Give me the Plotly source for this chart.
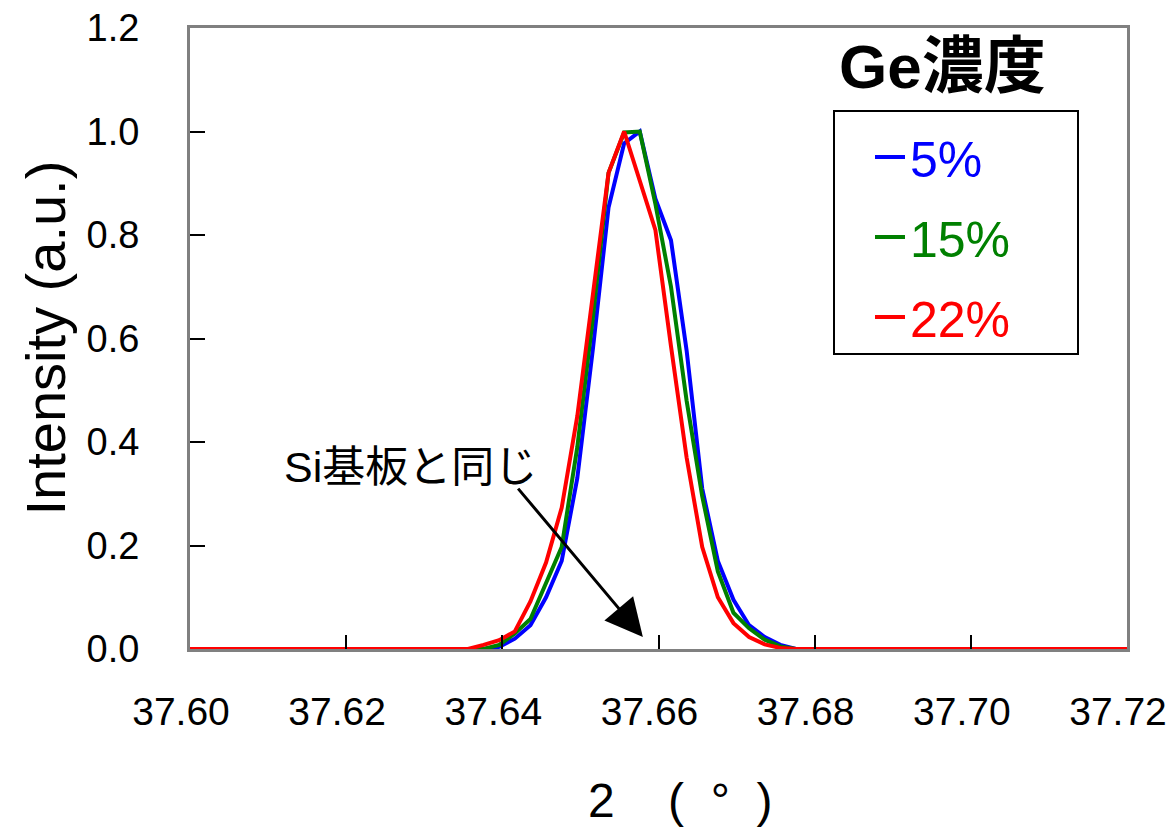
import plotly.graph_objects as go

# 2θ values (deg)
two_theta = [37.6000, 37.6356, 37.6376, 37.6396, 37.6416, 37.6436, 37.6456, 37.6476,
             37.6496, 37.6516, 37.6536, 37.6556, 37.6576, 37.6596, 37.6616, 37.6636,
             37.6656, 37.6676, 37.6696, 37.6716, 37.6736, 37.6756, 37.6776, 37.7200]

ge5 = [0.0, 0.0, 0.0, 0.004, 0.02, 0.046, 0.10, 0.17, 0.33, 0.58, 0.853, 0.977,
       1.0, 0.87, 0.79, 0.577, 0.31, 0.17, 0.095, 0.046, 0.023, 0.008, 0.0, 0.0]
ge15 = [0.0, 0.0, 0.0, 0.008, 0.03, 0.058, 0.128, 0.197, 0.39, 0.64, 0.92, 0.998,
        1.0, 0.86, 0.70, 0.48, 0.295, 0.15, 0.07, 0.04, 0.018, 0.005, 0.0, 0.0]
ge22 = [0.0, 0.0, 0.008, 0.017, 0.034, 0.092, 0.167, 0.273, 0.45, 0.68, 0.92, 1.0,
        0.905, 0.81, 0.585, 0.37, 0.197, 0.10, 0.05, 0.023, 0.009, 0.002, 0.0, 0.0]

series_names = ["5%", "15%", "22%"]
series_colors = ["#0000FF", "#008000", "#FF0000"]
x_ticks = [37.60, 37.62, 37.64, 37.66, 37.68, 37.70, 37.72]
x_tick_labels = ["37.60", "37.62", "37.64", "37.66", "37.68", "37.70", "37.72"]
y_ticks = [0.0, 0.2, 0.4, 0.6, 0.8, 1.0, 1.2]

FONT = "Liberation Sans, Arial, Noto Sans CJK JP, sans-serif"
CJK = "Liberation Sans, Arial, Noto Sans CJK JP, sans-serif"

fig = go.Figure()
for name, ys, col in zip(series_names, [ge5, ge15, ge22], series_colors):
    fig.add_trace(go.Scatter(
        x=two_theta, y=ys, mode="lines", name=f"<span style='color:{col}'>{name}</span>",
        line=dict(color=col, width=4), legendgroup=name,
    ))

fig.update_layout(
    width=1173, height=834,
    margin=dict(l=190, r=46, t=28, b=185, autoexpand=False),
    paper_bgcolor="white", plot_bgcolor="white",
    font=dict(family=FONT, size=40, color="black"),
    showlegend=True,
    legend=dict(x=(870 - 190) / 937, y=(649 - 118) / 621, xanchor="left", yanchor="top",
                bgcolor="rgba(0,0,0,0)", borderwidth=0,
                font=dict(size=50, family=FONT), tracegroupgap=12,
                itemwidth=30),
    xaxis=dict(range=[37.60, 37.72], tickvals=x_ticks, ticktext=x_tick_labels,
               ticks="inside", ticklen=14, tickcolor="black", tickwidth=1.5,
               showline=True, linecolor="#808080", linewidth=3, mirror=True,
               showgrid=False, zeroline=False, ticklabelstandoff=26,
               ticklabelshift=-9,
               ticklabeloverflow="allow", automargin=False,
               tickfont=dict(size=39)),
    yaxis=dict(range=[0, 1.2], tickvals=y_ticks, tickformat=".1f",
               ticks="inside", ticklen=15, tickcolor="black", tickwidth=1.5,
               showline=True, linecolor="#808080", linewidth=3, mirror=True,
               showgrid=False, zeroline=False, ticklabelstandoff=40,
               automargin=False,
               tickfont=dict(size=38)),
)

# legend frame
fig.add_shape(type="rect", xref="paper", yref="paper",
              x0=(834 - 190) / 937, x1=(1078 - 190) / 937,
              y0=(649 - 354) / 621, y1=(649 - 111) / 621,
              line=dict(color="black", width=2), fillcolor="rgba(0,0,0,0)")

# legend heading
fig.add_annotation(xref="paper", yref="paper", x=(942 - 190) / 937, y=(649 - 66) / 621,
                   text="<b>Ge濃度</b>", showarrow=False, xanchor="center", yanchor="middle",
                   font=dict(size=62, family=CJK, color="black"))

# axis titles
fig.add_annotation(xref="paper", yref="paper", x=(45 - 190) / 937, y=0.5,
                   text="Intensity (a.u.)", textangle=-90, showarrow=False,
                   xanchor="center", yanchor="middle", font=dict(size=56, family=FONT))
fig.add_annotation(xref="paper", yref="paper", x=(680 - 190) / 937, y=(649 - 800) / 621,
                   text="2\u00a0\u00a0\u00a0\u00a0(\u00a0\u00a0°\u00a0\u00a0)", showarrow=False,
                   xanchor="center", yanchor="middle", font=dict(size=48, family=FONT))

# note + arrow
fig.add_annotation(xref="paper", yref="paper", x=(410 - 190) / 937, y=(649 - 467) / 621,
                   text="Si基板と同じ", showarrow=False, xanchor="center", yanchor="middle",
                   font=dict(size=43, family=CJK))
fig.add_annotation(x=37.658, y=0.023, text="", showarrow=True,
                   ax=-126, ay=-150, arrowhead=2, arrowsize=2.5, arrowwidth=3,
                   arrowcolor="black")

fig.write_html("out.html")
